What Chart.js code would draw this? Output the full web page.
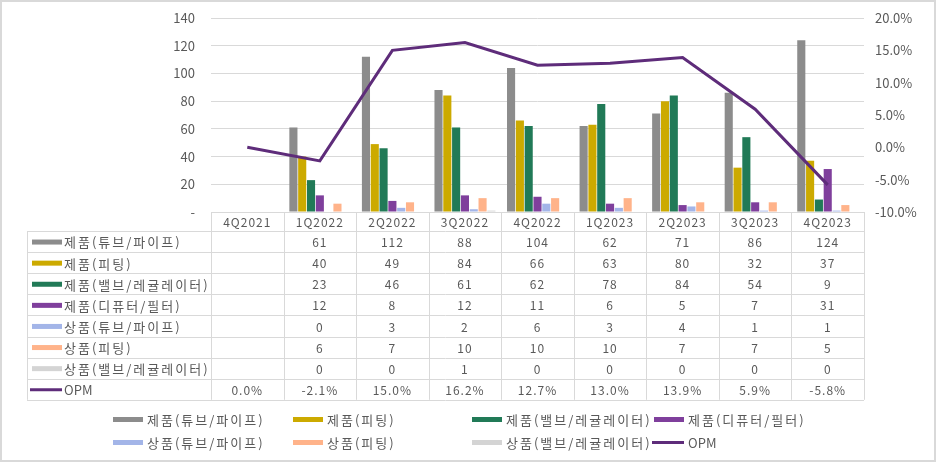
<!DOCTYPE html>
<html>
<head>
<meta charset="utf-8">
<script src="https://cdn.jsdelivr.net/npm/chart.js@4.4.1/dist/chart.umd.min.js"></script>
<style>
  html, body { margin: 0; padding: 0; background: #fff; }
  #wrap { width: 936px; height: 462px; position: relative; }
</style>
</head>
<body>
<div id="wrap"><canvas id="chart"></canvas></div>
<script>
// Data
const quarters = ["4Q2021", "1Q2022", "2Q2022", "3Q2022", "4Q2022", "1Q2023", "2Q2023", "3Q2023", "4Q2023"];
const seriesNames = ["제품(튜브/파이프)", "제품(피팅)", "제품(밸브/레귤레이터)", "제품(디퓨터/필터)",
                     "상품(튜브/파이프)", "상품(피팅)", "상품(밸브/레귤레이터)", "OPM"];
const prodTube     = [null, 61, 112, 88, 104, 62, 71, 86, 124];
const prodFitting  = [null, 40, 49, 84, 66, 63, 80, 32, 37];
const prodValve    = [null, 23, 46, 61, 62, 78, 84, 54, 9];
const prodDiffuser = [null, 12, 8, 12, 11, 6, 5, 7, 31];
const goodsTube    = [null, 0, 3, 2, 6, 3, 4, 1, 1];
const goodsFitting = [null, 6, 7, 10, 10, 10, 7, 7, 5];
const goodsValve   = [null, 0, 0, 1, 0, 0, 0, 0, 0];
const opm          = [0.0, -2.1, 15.0, 16.2, 12.7, 13.0, 13.9, 5.9, -5.8];

const colors = ["#8c8c8c", "#ccaa00", "#217a57", "#7f3f9c", "#a3b5e8", "#ffb38a", "#d4d4d4", "#5e2c7a"];
const textColor = "#595959";
const lineColor = "#d9d9d9";
const fontFamily = "'Noto Sans CJK KR', 'Noto Sans', sans-serif";

const barSeries = [prodTube, prodFitting, prodValve, prodDiffuser, goodsTube, goodsFitting, goodsValve];

const datasets = barSeries.map((vals, i) => ({
    type: 'bar',
    label: seriesNames[i],
    data: vals,
    backgroundColor: colors[i],
    yAxisID: 'y',
    barPercentage: 0.92,
    categoryPercentage: 0.85,
    order: 2
}));
datasets.push({
    type: 'line',
    label: 'OPM',
    data: opm,
    borderColor: colors[7],
    borderWidth: 3,
    pointRadius: 0,
    tension: 0,
    yAxisID: 'y1',
    order: 1
});

function drawKey(ctx, i, x, yc, w) {
    if (i < barSeries.length) {
        ctx.fillStyle = colors[i];
        ctx.fillRect(x, yc - 3, w, 5);
    } else {
        ctx.strokeStyle = colors[7];
        ctx.lineWidth = 3;
        ctx.beginPath();
        ctx.moveTo(x - 2, yc - 0.5);
        ctx.lineTo(x + w, yc - 0.5);
        ctx.stroke();
    }
}

// Korean labels are spaced out, the Latin "OPM" is not
function labelSpacing(name) {
    return /[가-힣]/.test(name) ? "2px" : "0px";
}

// Draws the data table under the plot, the legend at the bottom and the frame
const tablePlugin = {
    id: 'dataTable',
    afterDraw(chart) {
        const { ctx, chartArea } = chart;
        const xs = chart.scales.x;
        const colW = (chartArea.right - chartArea.left) / quarters.length;
        const top = chartArea.bottom;
        const headH = 19;
        const rowH = 21.1;
        const tableLeft = 27;
        const rowsTop = top + headH;
        const tableBottom = rowsTop + rowH * seriesNames.length;

        ctx.save();
        ctx.strokeStyle = lineColor;
        ctx.lineWidth = 1;

        ctx.beginPath();
        ctx.moveTo(chartArea.left, top + 0.5);
        ctx.lineTo(chartArea.right, top + 0.5);
        for (let k = 0; k <= seriesNames.length; k++) {
            const y = Math.round(rowsTop + k * rowH) + 0.5;
            ctx.moveTo(tableLeft, y);
            ctx.lineTo(chartArea.right, y);
        }
        for (let i = 0; i <= quarters.length; i++) {
            const x = Math.round(chartArea.left + i * colW) + 0.5;
            ctx.moveTo(x, top);
            ctx.lineTo(x, tableBottom);
        }
        ctx.moveTo(tableLeft + 0.5, rowsTop);
        ctx.lineTo(tableLeft + 0.5, tableBottom);
        ctx.stroke();

        ctx.fillStyle = textColor;
        ctx.font = "12px " + fontFamily;
        ctx.letterSpacing = "1px";
        ctx.textBaseline = "middle";
        ctx.textAlign = "center";
        quarters.forEach((q, i) => {
            ctx.fillText(q, xs.getPixelForValue(i), top + headH / 2 + 1);
        });

        const allRows = barSeries.concat([opm]);
        allRows.forEach((vals, r) => {
            const yc = rowsTop + r * rowH + rowH / 2 + 1;
            drawKey(ctx, r, 32, yc, 30);
            ctx.fillStyle = textColor;
            ctx.textAlign = "left";
            ctx.font = "13px " + fontFamily;
            ctx.letterSpacing = labelSpacing(seriesNames[r]);
            ctx.fillText(seriesNames[r], 64, yc);
            ctx.textAlign = "center";
            ctx.font = "12px " + fontFamily;
            ctx.letterSpacing = "1px";
            vals.forEach((v, i) => {
                if (v === null) return;
                const s = r < barSeries.length ? String(v) : v.toFixed(1) + "%";
                ctx.fillText(s, xs.getPixelForValue(i), yc);
            });
        });

        // bottom legend
        const legX = [113, 293, 472, 654];
        const legY = [420, 443];
        ctx.font = "13px " + fontFamily;
        ctx.textAlign = "left";
        seriesNames.forEach((name, i) => {
            const x = legX[i % 4];
            const y = legY[Math.floor(i / 4)];
            drawKey(ctx, i, x, y, 30);
            ctx.fillStyle = textColor;
            ctx.letterSpacing = labelSpacing(name);
            ctx.fillText(name, x + 34, y);
        });

        // outer frame
        ctx.strokeStyle = lineColor;
        ctx.lineWidth = 2;
        ctx.strokeRect(1, 1, 934, 460);
        ctx.restore();
    }
};

function fixWidth(w) {
    return s => {
        s.width = w;
        s.paddingTop = 0;
        s.paddingBottom = 0;
    };
}

window.addEventListener('load', () => {
    const ctx = document.getElementById("chart").getContext("2d");
    new Chart(ctx, {
        data: { labels: quarters, datasets: datasets },
        options: {
            responsive: true,
            maintainAspectRatio: false,
            animation: false,
            layout: { padding: { top: 18, bottom: 250, left: 0, right: 0 } },
            plugins: { legend: { display: false }, tooltip: { enabled: false } },
            scales: {
                x: { display: false, offset: true, grid: { display: false } },
                y: {
                    position: 'left',
                    min: 0, max: 140,
                    ticks: {
                        stepSize: 20,
                        color: textColor,
                        padding: 16,
                        font: { family: fontFamily, size: 13 },
                        callback: v => v === 0 ? '-' : v
                    },
                    grid: { color: lineColor, drawTicks: false },
                    border: { display: false },
                    afterFit: fixWidth(211)
                },
                y1: {
                    position: 'right',
                    min: -10, max: 20,
                    ticks: {
                        stepSize: 5,
                        color: textColor,
                        padding: 11,
                        font: { family: fontFamily, size: 13 },
                        callback: v => v.toFixed(1) + '%'
                    },
                    grid: { drawOnChartArea: false, drawTicks: false },
                    border: { display: false },
                    afterFit: fixWidth(72)
                }
            }
        },
        plugins: [tablePlugin]
    });
});
</script>
</body>
</html>
